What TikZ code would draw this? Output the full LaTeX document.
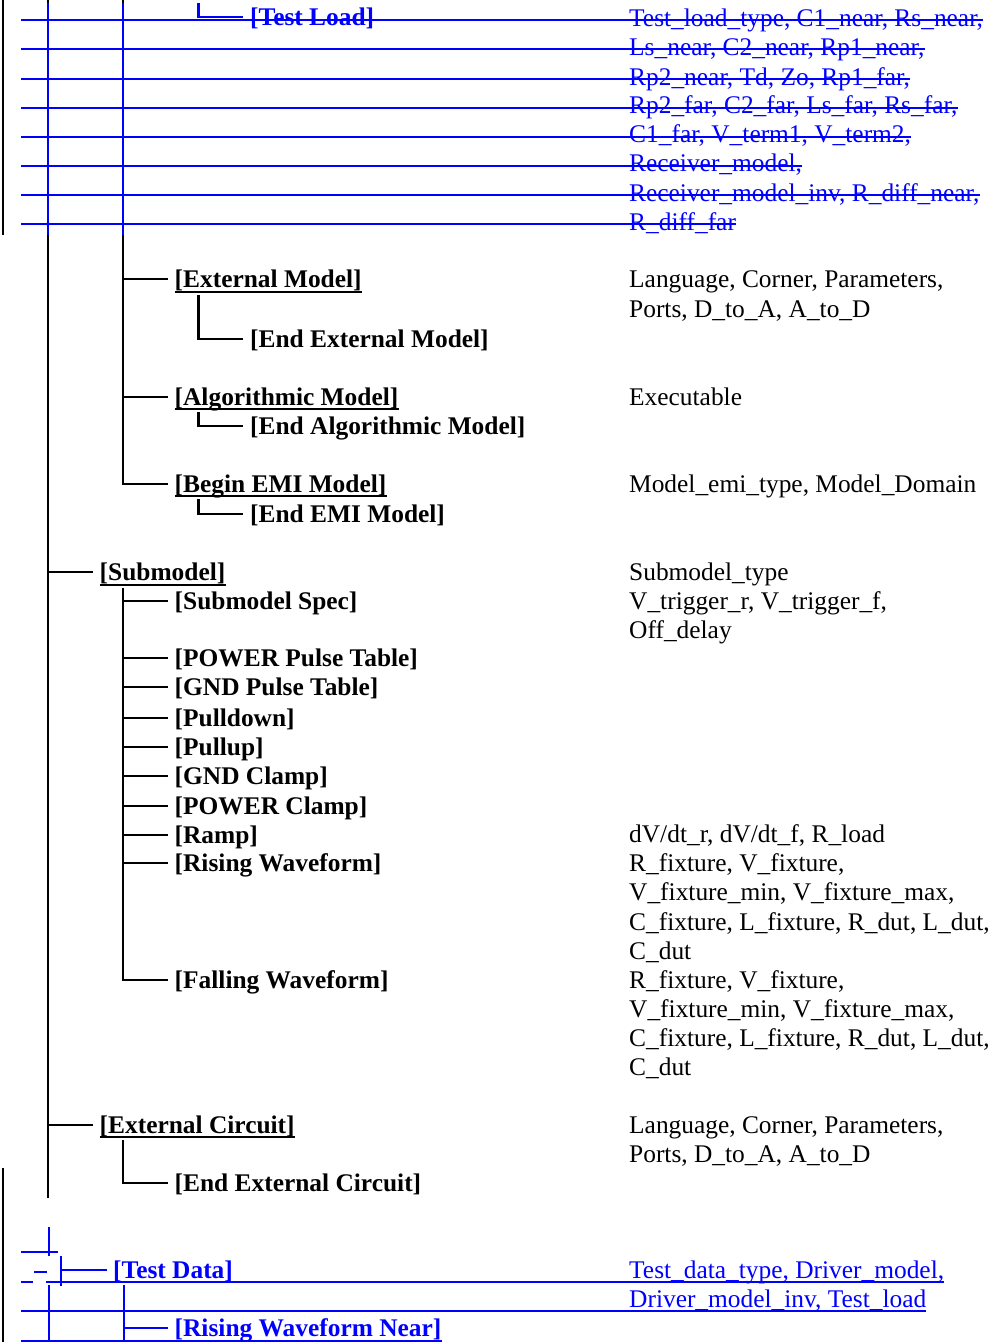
\documentclass[tikz,border=0pt]{standalone}
\usepackage{fontspec}
\setmainfont{Liberation Serif}
\definecolor{pblue}{RGB}{0,0,255}
\tikzset{
  lbl/.style={anchor=base west, inner sep=0pt, text height=20pt, text depth=3.2pt,
    font=\fontsize{25.4pt}{29pt}\selectfont\bfseries},
  val/.style={anchor=base west, inner sep=0pt, font=\fontsize{25.4pt}{29pt}\selectfont},
  tree/.style={line width=2.1pt, black},
  uline/.style={line width=2pt, black},
  bl/.style={line width=2.1pt, pblue},
}
\begin{document}
\begin{tikzpicture}[x=1pt,y=-1pt]
\useasboundingbox[fill=white] (0,0) rectangle (989,1342);

% ---------- left column labels ----------
\node[lbl,text=pblue] (tl) at (250,25.7) {[Test Load]};
\node[lbl] (em)   at (174.5,287.7) {[External Model]};
\node[lbl] (eem)  at (250,347.7)   {[End External Model]};
\node[lbl] (am)   at (174.5,405.1) {[Algorithmic Model]};
\node[lbl] (eam)  at (250,434.1)   {[End Algorithmic Model]};
\node[lbl] (bemi) at (174.5,492.4) {[Begin EMI Model]};
\node[lbl] (eemi) at (250,522.7)   {[End EMI Model]};
\node[lbl] (sm)   at (99.5,580.7)  {[Submodel]};
\node[lbl] (sms)  at (174.5,609.4) {[Submodel Spec]};
\node[lbl] (ppt)  at (174.5,666.7) {[POWER Pulse Table]};
\node[lbl] (gpt)  at (174.5,695.4) {[GND Pulse Table]};
\node[lbl] (pd)   at (174.5,726.1) {[Pulldown]};
\node[lbl] (pu)   at (174.5,755.1) {[Pullup]};
\node[lbl] (gc)   at (174.5,784.1) {[GND Clamp]};
\node[lbl] (pc)   at (174.5,814.1) {[POWER Clamp]};
\node[lbl] (rp)   at (174.5,843) {[Ramp]};
\node[lbl] (rw)   at (174.5,871.1) {[Rising Waveform]};
\node[lbl] (fw)   at (174.5,988.4) {[Falling Waveform]};
\node[lbl] (ec)   at (99.5,1133.4) {[External Circuit]};
\node[lbl] (eec)  at (174.5,1191.1) {[End External Circuit]};
\node[lbl,text=pblue] (td)  at (113,1278.4)  {[Test Data]};
\node[lbl,text=pblue] (rwn) at (174.5,1336.7) {[Rising Waveform Near]};

% ---------- right column values ----------
\begin{scope}[every node/.style={val,text=pblue}]
\node (r1) at (629,26)    {Test\_load\_type, C1\_near, Rs\_near,};
\node (r2) at (629,55.3)  {Ls\_near, C2\_near, Rp1\_near,};
\node (r3) at (629,85)    {Rp2\_near, Td, Zo, Rp1\_far,};
\node (r4) at (629,113.7) {Rp2\_far, C2\_far, Ls\_far, Rs\_far,};
\node (r5) at (629,142.7) {C1\_far, V\_term1, V\_term2,};
\node (r6) at (629,171.7) {Receiver\_model,};
\node (r7) at (629,201)   {Receiver\_model\_inv, R\_diff\_near,};
\node (r8) at (629,230)   {R\_diff\_far};
\node (t1) at (629,1278.5) {Test\_data\_type, Driver\_model,};
\node (t2) at (629,1307)   {Driver\_model\_inv, Test\_load};
\end{scope}
\begin{scope}[every node/.style={val}]
\node (v1)  at (629,287.7)  {Language, Corner, Parameters,};
\node (v2)  at (629,317.3)  {Ports, D\_to\_A, A\_to\_D};
\node (v3)  at (629,405)    {Executable};
\node (v4)  at (629,492)    {Model\_emi\_type, Model\_Domain};
\node (v5)  at (629,580.7)  {Submodel\_type};
\node (v6)  at (629,609.5)  {V\_trigger\_r, V\_trigger\_f,};
\node (v7)  at (629,638.5)  {Off\_delay};
\node (v8)  at (629,842.7)  {dV/dt\_r, dV/dt\_f, R\_load};
\node (v9)  at (629,871.7)  {R\_fixture, V\_fixture,};
\node (v10) at (629,900.7)  {V\_fixture\_min, V\_fixture\_max,};
\node (v11) at (629,930)    {C\_fixture, L\_fixture, R\_dut, L\_dut,};
\node (v12) at (629,959)    {C\_dut};
\node (v13) at (629,988.3)  {R\_fixture, V\_fixture,};
\node (v14) at (629,1017.3) {V\_fixture\_min, V\_fixture\_max,};
\node (v15) at (629,1046.7) {C\_fixture, L\_fixture, R\_dut, L\_dut,};
\node (v16) at (629,1075.3) {C\_dut};
\node (v17) at (629,1133.4) {Language, Corner, Parameters,};
\node (v18) at (629,1162.5) {Ports, D\_to\_A, A\_to\_D};
\end{scope}

% ---------- black tree ----------
\coordinate (s0a) at (3,0);   \coordinate (s0b) at (3,235);
\coordinate (s0c) at (3,1168); \coordinate (s0d) at (3,1342);
\draw[tree] (s0a) -- (s0b);
\draw[tree] (s0c) -- (s0d);
\coordinate (s1top) at (48,0); \coordinate (s1bot) at (48,1198);
\draw[tree] (s1top) -- (s1bot);
\coordinate (s2top) at (123,0);
\draw[tree] (s2top) -- ([xshift=-51.5pt]bemi.west) -- ([xshift=-7pt]bemi.west);
\foreach \c in {em,am,sm,ec}
  \draw[tree] ([xshift=-51.5pt]\c.west) -- ([xshift=-7pt]\c.west);
\draw[tree] ([xshift=-51.5pt,yshift=-3.5pt]eem.west |- em.south) -- ([xshift=-51.5pt]eem.west) -- ([xshift=-7pt]eem.west);
\draw[tree] ([xshift=-51.5pt,yshift=-3.5pt]eam.west |- am.south) -- ([xshift=-51.5pt]eam.west) -- ([xshift=-7pt]eam.west);
\draw[tree] ([xshift=-51.5pt,yshift=-3.5pt]eemi.west |- bemi.south) -- ([xshift=-51.5pt]eemi.west) -- ([xshift=-7pt]eemi.west);
\draw[tree] ([xshift=-51.5pt,yshift=-3.5pt]sms.west |- sm.south) -- ([xshift=-51.5pt]fw.west) -- ([xshift=-7pt]fw.west);
\foreach \c in {sms,ppt,gpt,pd,pu,gc,pc,rp,rw}
  \draw[tree] ([xshift=-51.5pt]\c.west) -- ([xshift=-7pt]\c.west);
\draw[tree] ([xshift=-51.5pt,yshift=-3.5pt]eec.west |- ec.south) -- ([xshift=-51.5pt]eec.west) -- ([xshift=-7pt]eec.west);
\foreach \n in {em,am,bemi,sm,ec}
  \draw[uline] ([yshift=-4pt]\n.base west) -- ([yshift=-4pt]\n.base east);

% ---------- blue (top) ----------
\coordinate (b1a) at (48,3);  \coordinate (b1b) at (48,235);
\coordinate (b2a) at (123,3); \coordinate (b2b) at (123,235);
\draw[bl] (b1a) -- (b1b);
\draw[bl] (b2a) -- (b2b);
\coordinate (b3a) at (198.5,3);
\draw[bl] (b3a) -- ([xshift=-51.5pt]tl.west) -- ([xshift=-7pt]tl.west);
\foreach \r in {r1,r2,r3,r4,r5,r6,r7,r8}
  \draw[bl] ([xshift=-608pt,yshift=6pt]\r.base west) -- ([yshift=6pt]\r.base east);

% ---------- blue (bottom) ----------
\draw[bl] (49,1227.3) -- (49,1256);
\draw[bl] (21,1252.3) -- (57.7,1252.3);
\draw[bl] (34.3,1272.3) -- (46.7,1272.3);
\draw[bl] (61,1256) -- (61,1286);
\draw[bl] ([xshift=-52pt]td.west) -- ([xshift=-6.5pt]td.west);
\draw[bl] (21,1281.7) -- (33.3,1281.7);
\coordinate (u1) at (46,1281.7);
\draw[bl] (u1) -- (u1 -| t1.east);
\coordinate (u2) at (21,1311);
\draw[bl] (u2) -- (u2 -| t2.east);
\draw[bl] (49,1285) -- (49,1342);
\draw[bl] (124,1285) -- (124,1342);
\draw[bl] ([xshift=-50.5pt]rwn.west) -- ([xshift=-7pt]rwn.west);
\coordinate (u3) at (21,1340.7);
\draw[bl] (u3) -- (u3 -| rwn.east);
\end{tikzpicture}
\end{document}
